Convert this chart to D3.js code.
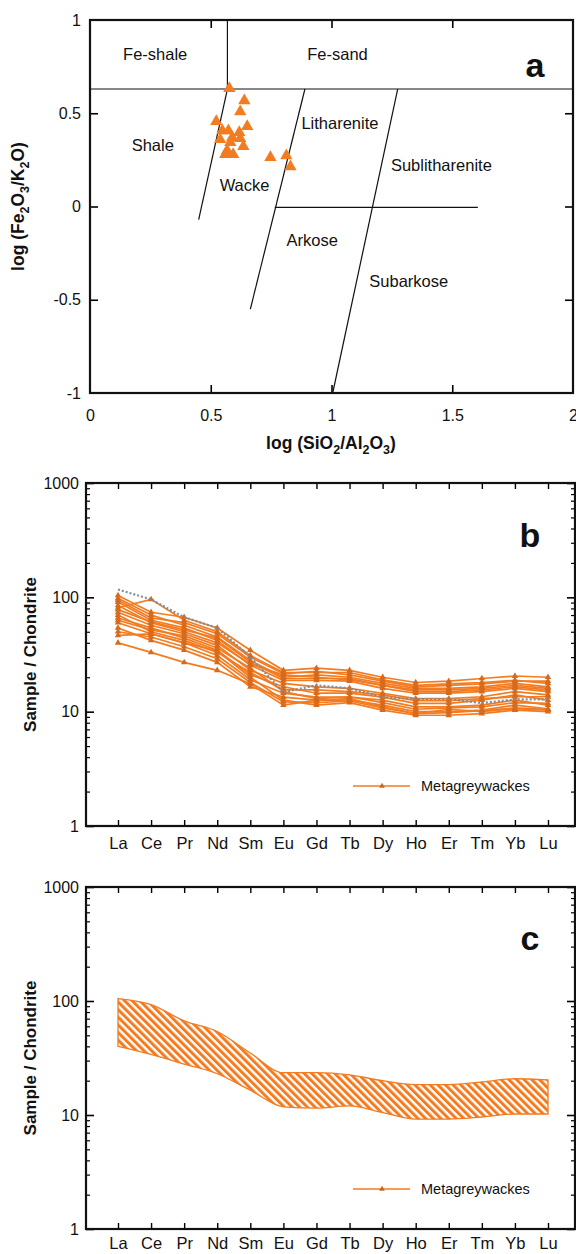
<!DOCTYPE html>
<html><head><meta charset="utf-8">
<script src="https://cdn.jsdelivr.net/npm/d3@7"></script>
<style>
body{margin:0;background:#fff;}
svg{display:block;font-family:"Liberation Sans",Arial,Helvetica,sans-serif;}
</style></head>
<body>
<svg id="chart" width="576" height="1254"></svg>
<script>
// ---------- DATA ----------
// Panel a: Herron (1988) classification, sample points (log SiO2/Al2O3, log Fe2O3/K2O)
const pointsX = [0.577,0.639,0.622,0.523,0.651,0.548,0.573,0.618,0.539,0.589,0.622,0.635,0.568,0.593,0.560,0.581,0.747,0.813,0.830];
const pointsY = [0.633,0.568,0.509,0.456,0.429,0.407,0.407,0.397,0.359,0.370,0.365,0.322,0.300,0.279,0.279,0.343,0.263,0.273,0.214];
const fieldLineX1 = [0,    0.569, 0.569, 0.89,  0.765, 1.274];
const fieldLineY1 = [0.63, 0.63,  0.63,  0.63,  -0.005, 0.63];
const fieldLineX2 = [2,    0.569, 0.45,  0.664, 1.606, 1.005];
const fieldLineY2 = [0.63, 1,     -0.07, -0.55, -0.005, -1];
const fieldNames = ["Fe-shale","Fe-sand","Shale","Wacke","Litharenite","Sublitharenite","Arkose","Subarkose"];
const fieldNameX = [0.27, 1.025, 0.26, 0.64, 1.035, 1.455, 0.92, 1.32];
const fieldNameY = [0.82, 0.82, 0.33, 0.115, 0.45, 0.22, -0.18, -0.40];
const axisATicksX = [0, 0.5, 1, 1.5, 2];
const axisATicksY = [-1, -0.5, 0, 0.5, 1];

// Panels b, c: chondrite-normalised REE
const elements = ["La","Ce","Pr","Nd","Sm","Eu","Gd","Tb","Dy","Ho","Er","Tm","Yb","Lu"];
const sample1  = [104, 74, 67, 54, 34.5, 23, 24, 23, 20, 18, 18.5, 19.5, 20.5, 20];
const sample2  = [81, 96, 63, 50, 31, 22, 22, 22, 19, 17, 17.5, 18, 18.8, 17.7];
const sample3  = [98, 70, 57, 45, 28, 20, 21, 20, 17.7, 16, 16, 16.5, 17.7, 16.5];
const sample4  = [91, 63, 54, 42, 25.5, 18.8, 18.8, 18.5, 16, 14.5, 14.5, 15, 16, 15];
const sample5  = [74, 57, 48, 38, 23, 17.7, 16.5, 16, 14.5, 13, 13, 13.5, 15, 14];
const sample6  = [66, 54, 44, 34.5, 21, 16.5, 14.5, 14.5, 13.4, 11.8, 11.8, 12.6, 14, 12.6];
const sample7  = [60, 48, 40, 31, 19, 14.5, 13.4, 13.4, 12.6, 11, 11, 11.4, 12.6, 11.4];
const sample8  = [54, 42, 34.5, 27, 16.5, 13.4, 12.6, 12.6, 11.4, 10, 10, 10.3, 11.4, 10.6];
const sample9  = [46.5, 48, 40, 34, 20, 12.6, 11.4, 12, 10.3, 9.3, 9.3, 9.6, 10.3, 10];
const sample10 = [40, 33, 27, 23, 17.5, 11.4, 12.6, 13, 11, 9.6, 10.5, 10, 10.6, 10.3];
const sample11 = [85, 60, 50, 40, 26, 21, 20, 19, 17, 15.5, 15.5, 16, 17, 16];
const sample12 = [70, 50, 42, 33, 22, 15.5, 15.5, 15, 14, 12.5, 12.5, 13, 13.5, 13.5];
const sample13 = [95, 66, 60, 48, 30, 21.5, 22.5, 21, 18.5, 16.5, 17, 17.5, 18.5, 18.5];
const sample14 = [78, 61, 52, 44, 27, 19.5, 19.5, 19.5, 17, 15, 15, 15.5, 16.5, 15.5];
const sample15 = [63, 52, 46, 36, 24, 15, 13, 13.5, 12, 10.5, 10.8, 11, 12, 11.8];
const sample16 = [50, 45, 37, 29, 18, 12.2, 12, 12.4, 10.8, 9.6, 9.8, 10.2, 10.8, 10.4];
const samples = [sample1,sample2,sample3,sample4,sample5,sample6,sample7,sample8,
                 sample9,sample10,sample11,sample12,sample13,sample14,sample15,sample16];
const reference = [117, 96, 67, 54, 30, 14.8, 17, 16, 13.4, 12.9, 12.9, 11.9, 12.8, 12.8];
const bandUpper = [105, 93, 67, 54, 35, 23.5, 23.5, 22.5, 20, 18.5, 18.5, 19.5, 20.8, 20.3];
const bandLower = [40, 34, 28, 23, 16.5, 11.8, 11.5, 12, 10.5, 9.2, 9.2, 9.6, 10.2, 10.2];
const logTicks = [1, 10, 100, 1000];
const legendLabel = "Metagreywackes";

// ---------- STYLE ----------
const ORANGE = "#f37b20";
const INK = "#111";
const svg = d3.select("#chart");
const font = '"Liberation Sans",Arial,Helvetica,sans-serif';
const plain = d => String(d);

// ---------- PANEL A ----------
const xA = d3.scaleLinear().domain([0, 2]).range([90, 573]);
const yA = d3.scaleLinear().domain([-1, 1]).range([393, 20]);
const gA = svg.append("g");

gA.append("g").attr("transform", `translate(0,${yA(-1)})`)
  .call(d3.axisBottom(xA).tickValues(axisATicksX).tickSize(-8).tickPadding(17).tickFormat(plain))
  .call(g => { g.select(".domain").remove(); g.selectAll("text").attr("font-size", 16).attr("font-family", font).attr("fill", INK); g.selectAll("line").attr("stroke-width", 1.6).filter(d => d === 0 || d === 2).remove(); });
gA.append("g").attr("transform", `translate(0,${yA(1)})`)
  .call(d3.axisTop(xA).tickValues([0.5, 1, 1.5]).tickSize(-8).tickFormat(""))
  .call(g => { g.select(".domain").remove(); g.selectAll("line").attr("stroke-width", 1.6); });
gA.append("g").attr("transform", `translate(${xA(0)},0)`)
  .call(d3.axisLeft(yA).tickValues(axisATicksY).tickSize(-8).tickPadding(9).tickFormat(plain))
  .call(g => { g.select(".domain").remove(); g.selectAll("text").attr("font-size", 16).attr("font-family", font).attr("fill", INK); g.selectAll("line").attr("stroke-width", 1.6).filter(d => d === 1 || d === -1).remove(); });
gA.append("g").attr("transform", `translate(${xA(2)},0)`)
  .call(d3.axisRight(yA).tickValues([-0.5, 0, 0.5]).tickSize(-8).tickFormat(""))
  .call(g => { g.select(".domain").remove(); g.selectAll("line").attr("stroke-width", 1.6); });

gA.selectAll("line.field").data(fieldLineX1).join("line").attr("class", "field")
  .attr("x1", (d, i) => xA(fieldLineX1[i])).attr("y1", (d, i) => yA(fieldLineY1[i]))
  .attr("x2", (d, i) => xA(fieldLineX2[i])).attr("y2", (d, i) => yA(fieldLineY2[i]))
  .attr("stroke", INK).attr("stroke-width", 1.2);

gA.append("rect").attr("x", xA(0)).attr("y", yA(1)).attr("width", xA(2) - xA(0)).attr("height", yA(-1) - yA(1))
  .attr("fill", "none").attr("stroke", INK).attr("stroke-width", 2.2);

gA.selectAll("text.fname").data(fieldNames).join("text").attr("class", "fname")
  .attr("x", (d, i) => xA(fieldNameX[i])).attr("y", (d, i) => yA(fieldNameY[i]) + 6)
  .attr("text-anchor", "middle").attr("font-size", 16.5).attr("fill", INK).text(d => d);

gA.selectAll("path.pt").data(pointsX).join("path").attr("class", "pt")
  .attr("transform", (d, i) => `translate(${xA(pointsX[i])},${yA(pointsY[i])})`)
  .attr("d", d3.symbol(d3.symbolTriangle).size(66)).attr("fill", ORANGE);

gA.append("text").attr("x", 535).attr("y", 77).attr("text-anchor", "middle")
  .attr("font-size", 34).attr("font-weight", "bold").attr("fill", INK).text("a");

// axis titles a
const tA = gA.append("text").attr("x", 331).attr("y", 449).attr("text-anchor", "middle")
  .attr("font-size", 17.5).attr("font-weight", "bold").attr("fill", INK);
tA.append("tspan").text("log (SiO");
tA.append("tspan").attr("font-size", 12.5).attr("dy", 4.5).text("2");
tA.append("tspan").attr("dy", -4.5).text("/Al");
tA.append("tspan").attr("font-size", 12.5).attr("dy", 4.5).text("2");
tA.append("tspan").attr("dy", -4.5).text("O");
tA.append("tspan").attr("font-size", 12.5).attr("dy", 4.5).text("3");
tA.append("tspan").attr("dy", -4.5).text(")");

const tAy = gA.append("text").attr("transform", `translate(24,${(yA(1) + yA(-1)) / 2}) rotate(-90)`)
  .attr("text-anchor", "middle").attr("font-size", 17.5).attr("font-weight", "bold").attr("fill", INK);
tAy.append("tspan").text("log (Fe");
tAy.append("tspan").attr("font-size", 12.5).attr("dy", 4.5).text("2");
tAy.append("tspan").attr("dy", -4.5).text("O");
tAy.append("tspan").attr("font-size", 12.5).attr("dy", 4.5).text("3");
tAy.append("tspan").attr("dy", -4.5).text("/K");
tAy.append("tspan").attr("font-size", 12.5).attr("dy", 4.5).text("2");
tAy.append("tspan").attr("dy", -4.5).text("O)");

// ---------- PANELS B & C ----------
const defs = svg.append("defs");
const pat = defs.append("pattern").attr("id", "hatch").attr("patternUnits", "userSpaceOnUse")
  .attr("width", 5.4).attr("height", 5.4).attr("patternTransform", "rotate(-45)");
pat.append("rect").attr("width", 5.4).attr("height", 5.4).attr("fill", "#fff");
pat.append("rect").attr("width", 3).attr("height", 5.4).attr("fill", ORANGE);

function reePanel(top, bottom, letter, letterY, legendY, labelPad, drawFn) {
  const left = 86, right = 575;
  const x = d3.scalePoint().domain(elements).range([118, 548]);
  const y = d3.scaleLog().domain([1, 1000]).range([bottom, top]);
  const g = svg.append("g");
  const minor = [];
  [1, 10, 100].forEach(b => { for (let k = 2; k <= 9; k++) minor.push(b * k); });

  drawFn(g, x, y);

  g.append("g").attr("transform", `translate(${left},0)`)
    .call(d3.axisLeft(y).tickValues(logTicks).tickSize(-8).tickPadding(7).tickFormat(d3.format("d")))
    .call(s => { s.select(".domain").remove(); s.selectAll("text").attr("font-size", 16).attr("font-family", font).attr("fill", INK); s.selectAll("line").attr("stroke-width", 1.6); });
  g.append("g").attr("transform", `translate(${left},0)`)
    .call(d3.axisLeft(y).tickValues(minor).tickSize(-4).tickFormat(""))
    .call(s => { s.select(".domain").remove(); s.selectAll("line").attr("stroke-width", 1.2); });
  g.append("g").attr("transform", `translate(${right},0)`)
    .call(d3.axisRight(y).tickValues(logTicks).tickSize(-8).tickFormat(""))
    .call(s => { s.select(".domain").remove(); s.selectAll("line").attr("stroke-width", 1.6); });
  g.append("g").attr("transform", `translate(${right},0)`)
    .call(d3.axisRight(y).tickValues(minor).tickSize(-4).tickFormat(""))
    .call(s => { s.select(".domain").remove(); s.selectAll("line").attr("stroke-width", 1.2); });
  g.append("g").attr("transform", `translate(0,${bottom})`)
    .call(d3.axisBottom(x).tickSize(-6).tickPadding(labelPad))
    .call(s => { s.select(".domain").remove(); s.selectAll("text").attr("font-size", 16.5).attr("font-family", font).attr("fill", INK); s.selectAll("line").attr("stroke-width", 1.4); });
  g.append("g").attr("transform", `translate(0,${top})`)
    .call(d3.axisTop(x).tickSize(-6).tickFormat(""))
    .call(s => { s.select(".domain").remove(); s.selectAll("line").attr("stroke-width", 1.4); });

  g.append("rect").attr("x", left).attr("y", top).attr("width", right - left).attr("height", bottom - top)
    .attr("fill", "none").attr("stroke", INK).attr("stroke-width", 2.2);

  g.append("text").attr("x", 530).attr("y", letterY).attr("text-anchor", "middle")
    .attr("font-size", 34).attr("font-weight", "bold").attr("fill", INK).text(letter);

  g.append("text").attr("transform", `translate(36,${(top + bottom) / 2}) rotate(-90)`)
    .attr("text-anchor", "middle").attr("font-size", 17).attr("font-weight", "bold").attr("fill", INK)
    .text("Sample / Chondrite");

  const lg = g.append("g").attr("transform", `translate(0,${legendY})`);
  lg.append("line").attr("x1", 353).attr("x2", 410).attr("stroke", ORANGE).attr("stroke-width", 1.6);
  lg.append("path").attr("transform", "translate(382,0)").attr("d", d3.symbol(d3.symbolTriangle).size(14)).attr("fill", "#c8661a");
  lg.append("text").attr("x", 421).attr("y", 5).attr("font-size", 14.5).attr("fill", INK).text(legendLabel);
}

// Panel b
reePanel(483, 826, "b", 547, 786, 11, (g, x, y) => {
  const line = d3.line().x((d, i) => x(elements[i])).y(d => y(d));
  g.selectAll("path.s").data(samples).join("path").attr("class", "s")
    .attr("d", line).attr("fill", "none").attr("stroke", ORANGE).attr("stroke-width", 1.7);
  samples.forEach(s => {
    g.selectAll(null).data(s).join("path")
      .attr("transform", (d, i) => `translate(${x(elements[i])},${y(d)})`)
      .attr("d", d3.symbol(d3.symbolTriangle).size(18)).attr("fill", "#d86a1c");
  });
  g.append("path").datum(reference).attr("d", line).attr("fill", "none")
    .attr("stroke", "#7f8e9c").attr("stroke-width", 2.2).attr("stroke-dasharray", "2,2");
});

// Panel c
reePanel(887, 1229, "c", 950, 1189, 8, (g, x, y) => {
  const area = d3.area().x((d, i) => x(elements[i])).y0((d, i) => y(bandLower[i])).y1(d => y(d))
    .curve(d3.curveMonotoneX);
  g.append("path").datum(bandUpper).attr("d", area).attr("fill", "url(#hatch)")
    .attr("stroke", ORANGE).attr("stroke-width", 1.3);
});
</script>
</body></html>
